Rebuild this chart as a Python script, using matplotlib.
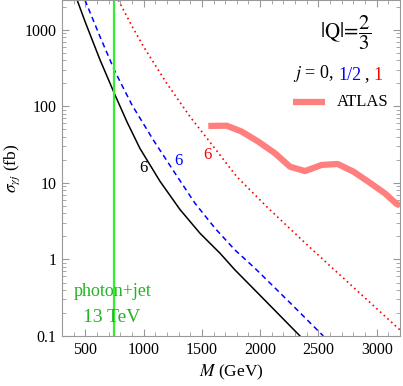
import matplotlib
matplotlib.use("Agg")
import matplotlib.pyplot as plt

plt.rcParams['font.family'] = ['Liberation Serif', 'DejaVu Serif']
plt.rcParams['mathtext.fontset'] = 'stix'

# cross sections (fb)
m_j0 = [430, 500, 626, 755, 860, 969, 1141, 1312, 1484, 1656, 1784, 2000, 2342]
sig_j0 = [2455, 1259, 407, 141, 61.7, 28.2, 10.5, 4.5, 2.20, 1.205, 0.73, 0.339, 0.1]

m_j12 = [497, 626, 755, 900, 1083, 1270, 1441, 1613, 1784, 1956, 2250, 2542]
sig_j12 = [2455, 817, 285, 104.7, 36.5, 13.4, 5.43, 2.56, 1.33, 0.767, 0.278, 0.1]

m_j1 = [783, 900, 1000, 1198, 1400, 1555, 1799, 2070, 2400, 2700, 3000, 3200]
sig_j1 = [2455, 1122, 603, 201, 72.9, 36.5, 12.1, 4.67, 1.57, 0.598, 0.228, 0.12]

m_atlas = [1555, 1713, 1842, 1984, 2128, 2256, 2385, 2528, 2665, 2799, 2928, 3071, 3172, 3200]
sig_atlas = [55.6, 56, 46.9, 34.7, 24.4, 16.3, 14.3, 17.2, 17.7, 14.1, 10.4, 7.3, 5.3, 5.1]

m_cut = 750

fig = plt.figure(figsize=(4.03, 3.86), dpi=100)
ax = fig.add_axes([62/403, 50/386, 338/403, 336/386])

ax.plot(m_j0, sig_j0, color='black', lw=1.1)
ax.plot(m_j12, sig_j12, color='#0000ff', lw=1.1, ls=(0, (3.5, 2.5)))
ax.plot(m_j1, sig_j1, color='#ff0000', lw=1.2, ls=(0, (1, 2)))
ax.plot(m_atlas, sig_atlas, color='#ff7f7f', lw=4.5, solid_capstyle='butt')
ax.axvline(m_cut, color='#33ee33', lw=1.6)

ax.set_yscale('log')
ax.set_xlim(300, 3200)
ax.set_ylim(0.1, 2460)
ax.set_xticks([500, 1000, 1500, 2000, 2500, 3000])
ax.set_xticks(range(300, 3201, 100), minor=True)
ax.set_yticks([0.1, 1, 10, 100, 1000])
ax.set_yticklabels(['0.1', '1', '10', '100', '1000'])
ax.tick_params(which='both', direction='in', top=True, right=True,
               labelsize=11.5, color='#999999', pad=4)
ax.tick_params(which='major', length=5)
ax.tick_params(which='minor', length=3)
for s in ax.spines.values():
    s.set_color('#999999')

ax.set_xlabel(r'$M$ (GeV)', fontsize=12.5, labelpad=4)
ax.set_ylabel(r'$\sigma_{\gamma j}$ (fb)', fontsize=12.5, labelpad=2)

def px(x, y):
    return ax.transData.inverted().transform(fig.transFigure.transform((x/403, 1 - y/386)))

# curve labels
for (x, y, c) in [(143, 168, 'black'), (178, 161, '#0000ff'), (207, 155, '#ff0000')]:
    ax.text(*px(x, y), '6', color=c, fontsize=12, ha='center', va='center')

ax.text(*px(113, 291), 'photon+jet', color='#22b422', fontsize=13, ha='center', va='center')
ax.text(*px(112, 318), '13 TeV', color='#22b422', fontsize=14, ha='center', va='center')

ax.text(*px(371, 33), r'$|\mathrm{Q}|\!=\!\dfrac{2}{3}$', fontsize=15, ha='right', va='center')

t1 = ax.text(*px(293, 73), r'$j$ = 0,', fontsize=13, ha='left', va='center')
t2 = ax.annotate('1/2', xy=(1, 0), xycoords=t1, xytext=(3.5, 0), textcoords='offset points',
                 va='bottom', fontsize=13, color='#0000ff')
t3 = ax.annotate(',', xy=(1, 0), xycoords=t2, xytext=(2, 0), textcoords='offset points',
                 va='bottom', fontsize=13)
ax.annotate('1', xy=(1, 0), xycoords=t3, xytext=(3.5, 0), textcoords='offset points',
            va='bottom', fontsize=13, color='#ff0000')

xa, ya = px(293, 102)
xb, _ = px(325, 102)
ax.plot([xa, xb], [ya, ya], color='#ff7f7f', lw=4.5, solid_capstyle='butt')
ax.text(*px(337, 102), 'ATLAS', fontsize=12, ha='left', va='center')

fig.savefig('out.png', dpi=100)
